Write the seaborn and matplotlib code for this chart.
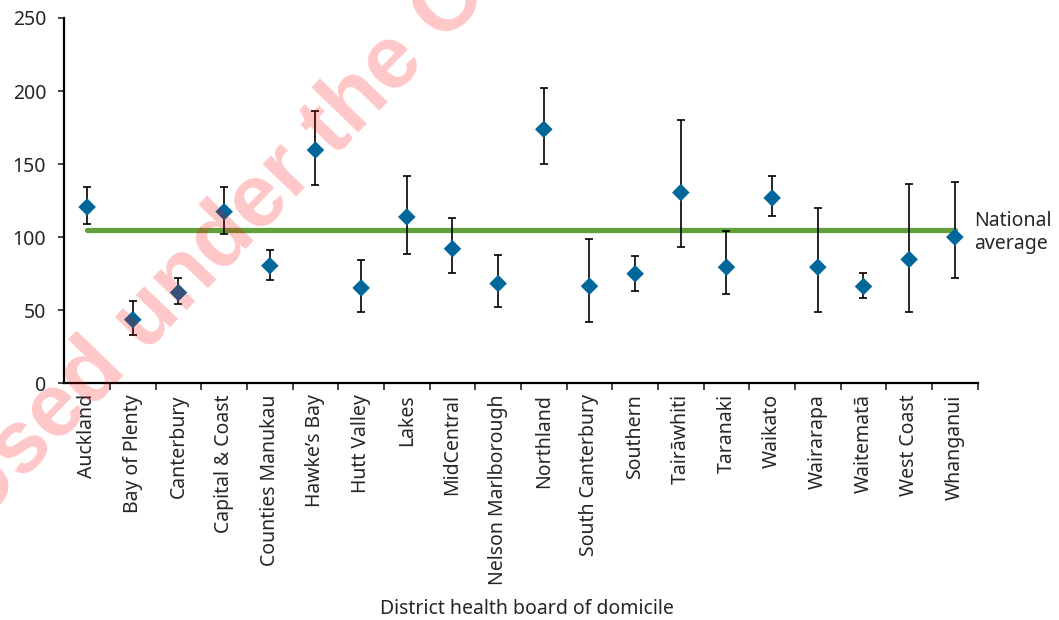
import matplotlib
matplotlib.use("Agg")
import matplotlib.pyplot as plt
import numpy as np
import pandas as pd
import seaborn as sns

boards = [
    "Auckland", "Bay of Plenty", "Canterbury", "Capital & Coast",
    "Counties Manukau", "Hawke\u2019s Bay", "Hutt Valley", "Lakes",
    "MidCentral", "Nelson Marlborough", "Northland", "South Canterbury",
    "Southern", "Tair\u0101whiti", "Taranaki", "Waikato", "Wairarapa",
    "Waitemat\u0101", "West Coast", "Whanganui",
]
rate = [120.6, 43.5, 62.0, 117.4, 80.4, 159.6, 65.2, 113.8, 92.0, 68.2,
        173.8, 66.4, 74.9, 130.5, 79.4, 126.8, 79.4, 66.2, 84.7, 100.0]
lower = [108.7, 33.0, 54.0, 101.9, 70.7, 135.5, 48.5, 88.6, 75.1, 52.0,
         150.0, 41.7, 63.0, 92.9, 60.9, 114.5, 48.5, 58.6, 48.5, 71.9]
upper = [134.2, 56.1, 71.9, 134.2, 90.9, 186.6, 84.5, 141.9, 113.1, 87.5,
         202.2, 98.4, 87.2, 180.2, 104.2, 141.9, 119.7, 75.1, 136.4, 137.6]
national_avg = 104.6

df = pd.DataFrame({"board": boards, "rate": rate, "lower": lower, "upper": upper})

sns.set_style("white")
plt.rcParams["font.family"] = ["Noto Sans", "DejaVu Sans"]

fig = plt.figure(figsize=(10.59, 6.2), dpi=100)
ax = fig.add_axes([0.0607, 0.382, 0.8625, 0.589])

x = np.arange(len(boards))
ax.errorbar(x, df["rate"], yerr=[df["rate"] - df["lower"], df["upper"] - df["rate"]],
            fmt="none", ecolor="black", elinewidth=1.2, capsize=2.6, capthick=1.2, zorder=2)
ax.plot([0, len(boards) - 1], [national_avg, national_avg], color="#62a03c", lw=3.8,
        solid_capstyle="round", zorder=1)
sns.scatterplot(data=df, x="board", y="rate", marker="D", s=80, color="#00679b",
                edgecolor="none", ax=ax, zorder=3)

ax.text(19.43, national_avg - 1.5, "National\naverage", fontsize=14, va="center",
        ha="left", linespacing=1.15)

ax.set_xlim(-0.5, len(boards) - 0.5)
ax.set_ylim(0, 250)
ax.set_yticks([0, 50, 100, 150, 200, 250])
ax.set_xticks(x)
ax.set_xticklabels(boards, rotation=90)
ax.set_xticks(np.arange(len(boards)) + 0.5, minor=True)
ax.tick_params(axis="x", which="major", length=0, pad=8, labelsize=14)
ax.tick_params(axis="x", which="minor", length=5, width=1.2, direction="out", bottom=True)
ax.tick_params(axis="y", length=4, width=1.2, direction="out", left=True, pad=9, labelsize=14)
ax.set_ylabel("")
ax.set_xlabel("District health board of domicile", fontsize=14)
ax.xaxis.set_label_coords(0.5066, -0.618)
ax.xaxis.label.set_va("center")

for side in ["top", "right"]:
    ax.spines[side].set_visible(False)
for side in ["left", "bottom"]:
    ax.spines[side].set_color("black")
    ax.spines[side].set_linewidth(1.6)

# watermark, partly outside the canvas as in the source image
fig.text(-0.021, 0.150, "Used under the Creative Commons Attribution licence",
         rotation=46, rotation_mode="anchor", ha="left", va="baseline",
         fontsize=64, fontweight="bold", family=["Liberation Sans", "DejaVu Sans"],
         color="red", alpha=0.22, zorder=10)

fig.savefig("out.png", dpi=100, facecolor="white")
